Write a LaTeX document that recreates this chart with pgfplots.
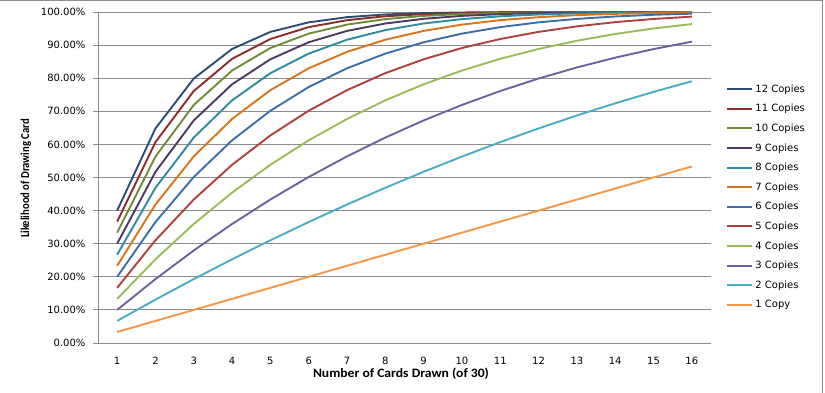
\documentclass[border=0pt]{standalone}
\usepackage{pgfplots}
\usepackage{pgfplotstable}
\pgfplotsset{compat=1.18}
\usepackage{fontspec}
\setmainfont{DejaVu Sans}
\newfontfamily\calib{Carlito}

\definecolor{c12}{HTML}{2C4D75}
\definecolor{c11}{HTML}{8B2D2B}
\definecolor{c10}{HTML}{6E8B37}
\definecolor{c9}{HTML}{4D3B62}
\definecolor{c8}{HTML}{2E8BA0}
\definecolor{c7}{HTML}{D9731C}
\definecolor{c6}{HTML}{3C6EA8}
\definecolor{c5}{HTML}{B0403D}
\definecolor{c4}{HTML}{9BBB59}
\definecolor{c3}{HTML}{7060A0}
\definecolor{c2}{HTML}{4BACC6}
\definecolor{c1}{HTML}{F79646}
\definecolor{gridgray}{HTML}{8C8C8C}

\pgfplotstableread{
n  c1     c2     c3     c4     c5     c6     c7     c8     c9     c10    c11    c12
1  3.333  6.667  10.000 13.333 16.667 20.000 23.333 26.667 30.000 33.333 36.667 40.000
2  6.667  13.103 19.310 25.287 31.034 36.552 41.839 46.897 51.724 56.322 60.690 64.828
3  10.000 19.310 27.956 35.961 43.350 50.148 56.379 62.069 67.241 71.921 76.133 79.901
4  13.333 25.287 35.961 45.448 53.840 61.226 67.688 73.308 78.161 82.321 85.857 88.834
5  16.667 31.034 43.350 53.840 62.717 70.174 76.388 81.521 85.721 89.120 91.840 93.988
6  20.000 36.552 50.148 61.226 70.174 77.332 82.999 87.434 90.861 93.472 95.430 96.874
7  23.333 41.839 56.379 67.688 76.388 82.999 87.957 91.623 94.288 96.192 97.525 98.437
8  26.667 46.897 62.069 73.308 81.521 87.434 91.623 94.537 96.523 97.848 98.709 99.252
9  30.000 51.724 67.241 78.161 85.721 90.861 94.288 96.523 97.945 98.826 99.354 99.660
10 33.333 56.322 71.921 82.321 89.120 93.472 96.192 97.848 98.826 99.385 99.692 99.854
11 36.667 60.690 76.133 85.857 91.840 95.430 97.525 98.709 99.354 99.692 99.861 99.941
12 40.000 64.828 79.901 88.834 93.988 96.874 98.437 99.252 99.660 99.854 99.942 99.979
13 43.333 68.736 83.251 91.315 95.658 97.916 99.045 99.585 99.830 99.935 99.977 99.993
14 46.667 72.414 86.207 93.359 96.935 98.651 99.438 99.780 99.920 99.973 99.992 99.998
15 50.000 75.862 88.793 95.019 97.893 99.157 99.684 99.890 99.965 99.990 99.997 99.999
16 53.333 79.080 91.034 96.347 98.595 99.494 99.831 99.949 99.986 99.997 99.999 100.000
}\datatable

\begin{document}
\begin{tikzpicture}[x=1pt,y=1pt]
\path[use as bounding box] (0,0) rectangle (825,393);
\draw[gridgray, line width=1pt] (0,392.5) -- (822.5,392.5) -- (822.5,0);
\node[rotate=90, inner sep=0pt] at (26,214.5) {\resizebox{119pt}{8.5pt}{\calib\bfseries Likelihood of Drawing Card}};
\node[inner sep=0pt, anchor=base] at (401,15.5) {\resizebox{176pt}{9.5pt}{\calib\bfseries Number of Cards Drawn (of 30)}};
\begin{axis}[
  at={(98pt,50pt)}, anchor=origin,
  scale only axis, width=613pt, height=331pt,
  xmin=0.5, xmax=16.5, ymin=0, ymax=100,
  xtick={1,...,16},
  ytick={0,10,...,100},
  major x tick style={draw=none},
  extra x ticks={0.5,1.5,...,16.5},
  extra x tick labels={},
  extra x tick style={grid=none, major tick length=5pt, tick style={draw=gridgray, line width=0.8pt}},
  tick align=outside,
  major tick length=5pt,
  ytick style={draw=gridgray, line width=0.8pt},
  ymajorgrids,
  grid style={gridgray, line width=0.9pt},
  axis x line*=bottom, axis y line*=left,
  axis line style={gridgray, line width=0.9pt, -},
  /pgf/number format/assume math mode=true,
  ticklabel style={font=\fontsize{10}{12}\selectfont},
  yticklabel={\pgfmathprintnumber[fixed,fixed zerofill,precision=2]{\tick}\%},
  yticklabel style={xshift=-4pt},
  xticklabel style={yshift=-6pt},
  legend style={at={(rel axis cs:1.025,0.787)}, anchor=north west, draw=none, fill=none,
    font=\fontsize{10}{12}\selectfont, row sep=6.5pt, inner sep=0pt},
  legend cell align=left,
  legend image code/.code={\draw[#1] (0pt,0pt) -- (25pt,0pt);},
  every axis plot/.append style={line width=1.9pt, line join=round},
  clip=false,
]
\addplot[c12] table[x=n,y=c12]{\datatable}; \addlegendentry{12 Copies}
\addplot[c11] table[x=n,y=c11]{\datatable}; \addlegendentry{11 Copies}
\addplot[c10] table[x=n,y=c10]{\datatable}; \addlegendentry{10 Copies}
\addplot[c9] table[x=n,y=c9]{\datatable}; \addlegendentry{9 Copies}
\addplot[c8] table[x=n,y=c8]{\datatable}; \addlegendentry{8 Copies}
\addplot[c7] table[x=n,y=c7]{\datatable}; \addlegendentry{7 Copies}
\addplot[c6] table[x=n,y=c6]{\datatable}; \addlegendentry{6 Copies}
\addplot[c5] table[x=n,y=c5]{\datatable}; \addlegendentry{5 Copies}
\addplot[c4] table[x=n,y=c4]{\datatable}; \addlegendentry{4 Copies}
\addplot[c3] table[x=n,y=c3]{\datatable}; \addlegendentry{3 Copies}
\addplot[c2] table[x=n,y=c2]{\datatable}; \addlegendentry{2 Copies}
\addplot[c1] table[x=n,y=c1]{\datatable}; \addlegendentry{1 Copy}
\end{axis}
\end{tikzpicture}
\end{document}
